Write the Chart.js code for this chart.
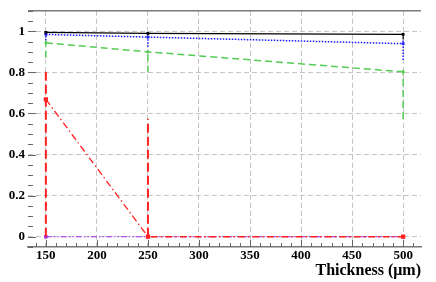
<!DOCTYPE html>
<html>
<head>
<meta charset="utf-8">
<script src="https://cdn.jsdelivr.net/npm/chart.js@4/dist/chart.umd.min.js"></script>
<style>
  html, body { margin: 0; padding: 0; background: #fff; }
  #wrap { width: 436px; height: 282px; }
</style>
</head>
<body>
<div id="wrap"><canvas id="c"></canvas></div>
<script>
// thickness values (um)
const thickness = [150, 250, 500];

// efficiencies
const effBlack  = [0.995, 0.99, 0.985];
const errBlackLo = [0.005, 0.01, 0.025];
const errBlackHi = [0.003, 0.005, 0.008];

const effBlue   = [0.985, 0.972, 0.94];
const errBlueLo = [0.03, 0.047, 0.08];
const errBlueHi = [0.01, 0.015, 0.02];

const effGreen  = [0.944, 0.90, 0.803];
const errGreenLo = [0.072, 0.10, 0.23];
const errGreenHi = [0.01, 0.01, 0.01];

const effRed    = [0.669, 0, 0];
const errRedLo  = [0.669, 0, 0];
const errRedHi  = [0.145, 0.574, 0];

const effViolet = [0, 0, 0];

const yTickLabels = [0, 0.2, 0.4, 0.6, 0.8, 1];
const xTickLabels = [150, 200, 250, 300, 350, 400, 450, 500];

function pts(ys) {
  return thickness.map((t, i) => ({x: t, y: ys[i]}));
}

// one small 2-point dataset per error bar
function errBars(ys, lo, hi, color, dash, width) {
  return thickness.map((t, i) => ({
    data: [{x: t, y: ys[i] - lo[i]}, {x: t, y: ys[i] + hi[i]}],
    borderColor: color,
    borderDash: dash,
    borderWidth: width,
    pointRadius: 0,
    showLine: true,
    fill: false
  }));
}

function series(ys, color, dash, width, radius) {
  return {
    data: pts(ys),
    borderColor: color,
    backgroundColor: color,
    borderDash: dash,
    borderWidth: width,
    pointStyle: 'rect',
    pointRadius: radius,
    pointBorderWidth: 0,
    showLine: true,
    fill: false
  };
}

const cBlack = '#000000';
const cBlue = '#1a1aff';
const cGreen = '#55cc55';
const cRed = '#ff2020';
const cViolet = '#9a2cf0';

// chart.js paints index 0 last, so the top-most series goes first
const datasets = [
  series(effBlack, cBlack, [], 1.2, 2),
  ...errBars(effBlack, errBlackLo, errBlackHi, cBlack, [], 1.2),
  series(effBlue, cBlue, [1.5, 1.5], 1.5, 2),
  ...errBars(effBlue, errBlueLo, errBlueHi, cBlue, [1.5, 1.5], 1.5),
  series(effGreen, cGreen, [7, 4], 1.5, 1.8),
  ...errBars(effGreen, errGreenLo, errGreenHi, cGreen, [7, 4], 1.5),
  series(effRed, cRed, [7, 3, 1.5, 3], 1.3, 3),
  ...errBars(effRed, errRedLo, errRedHi, cRed, [9, 4], 2),
  series(effViolet, cViolet, [6, 2, 1.5, 2, 1.5, 2], 1.2, 2.5)
];

const font = 'Liberation Serif';

// ROOT style inward ticks and top frame line
const frame = {
  id: 'frame',
  beforeDatasetsDraw(chart) {
    const {ctx, chartArea: a, scales: {x, y}} = chart;
    ctx.save();
    ctx.strokeStyle = '#7a7a7a';
    ctx.lineWidth = 1.5;
    ctx.beginPath();
    ctx.moveTo(a.left, a.top);
    ctx.lineTo(a.right, a.top);
    ctx.stroke();
    ctx.lineWidth = 1;
    ctx.strokeStyle = '#666';
    ctx.beginPath();
    for (let v = 140; v <= 510; v += 10) {
      const px = Math.round(x.getPixelForValue(v)) + 0.5;
      const len = v % 50 === 0 ? 7 : 4;
      ctx.moveTo(px, a.bottom);
      ctx.lineTo(px, a.bottom - len);
    }
    for (let k = -1; k <= 22; k++) {
      const v = k * 0.05;
      const py = Math.round(y.getPixelForValue(v)) + 0.5;
      const len = k % 4 === 0 ? 8 : 5;
      ctx.moveTo(a.left, py);
      ctx.lineTo(a.left + len, py);
    }
    ctx.stroke();
    ctx.restore();
  }
};

new Chart(document.getElementById('c'), {
  type: 'scatter',
  data: {datasets: datasets},
  options: {
    responsive: true,
    maintainAspectRatio: false,
    animation: false,
    layout: {padding: {top: 7, right: 15, left: 0, bottom: 0}},
    plugins: {legend: {display: false}, tooltip: {enabled: false}},
    scales: {
      x: {
        type: 'linear',
        min: 132.5,
        max: 517.5,
        afterBuildTicks: s => { s.ticks = xTickLabels.map(v => ({value: v})); },
        afterFit: s => { s.height = 35; },
        ticks: {
          padding: 1,
          color: '#000',
          font: {family: font, size: 13, weight: 'bold'}
        },
        grid: {drawTicks: false, color: '#c4c4c4', lineWidth: 1},
        border: {display: true, color: '#777', width: 1.5, dash: [5, 3]},
        title: {
          display: true,
          text: 'Thickness (\u03bcm)',
          align: 'end',
          color: '#000',
          padding: {top: 0, bottom: 2},
          font: {family: font, size: 16, weight: 'bold'}
        }
      },
      y: {
        type: 'linear',
        min: -0.05,
        max: 1.1,
        afterBuildTicks: s => { s.ticks = yTickLabels.map(v => ({value: v})); },
        afterFit: s => { s.width = 28; },
        ticks: {
          padding: 3,
          color: '#000',
          font: {family: font, size: 13, weight: 'bold'},
          callback: v => String(Math.round(v * 10) / 10)
        },
        grid: {drawTicks: false, color: '#c4c4c4', lineWidth: 1},
        border: {display: false, dash: [5, 3]}
      }
    }
  },
  plugins: [frame]
});
</script>
</body>
</html>
